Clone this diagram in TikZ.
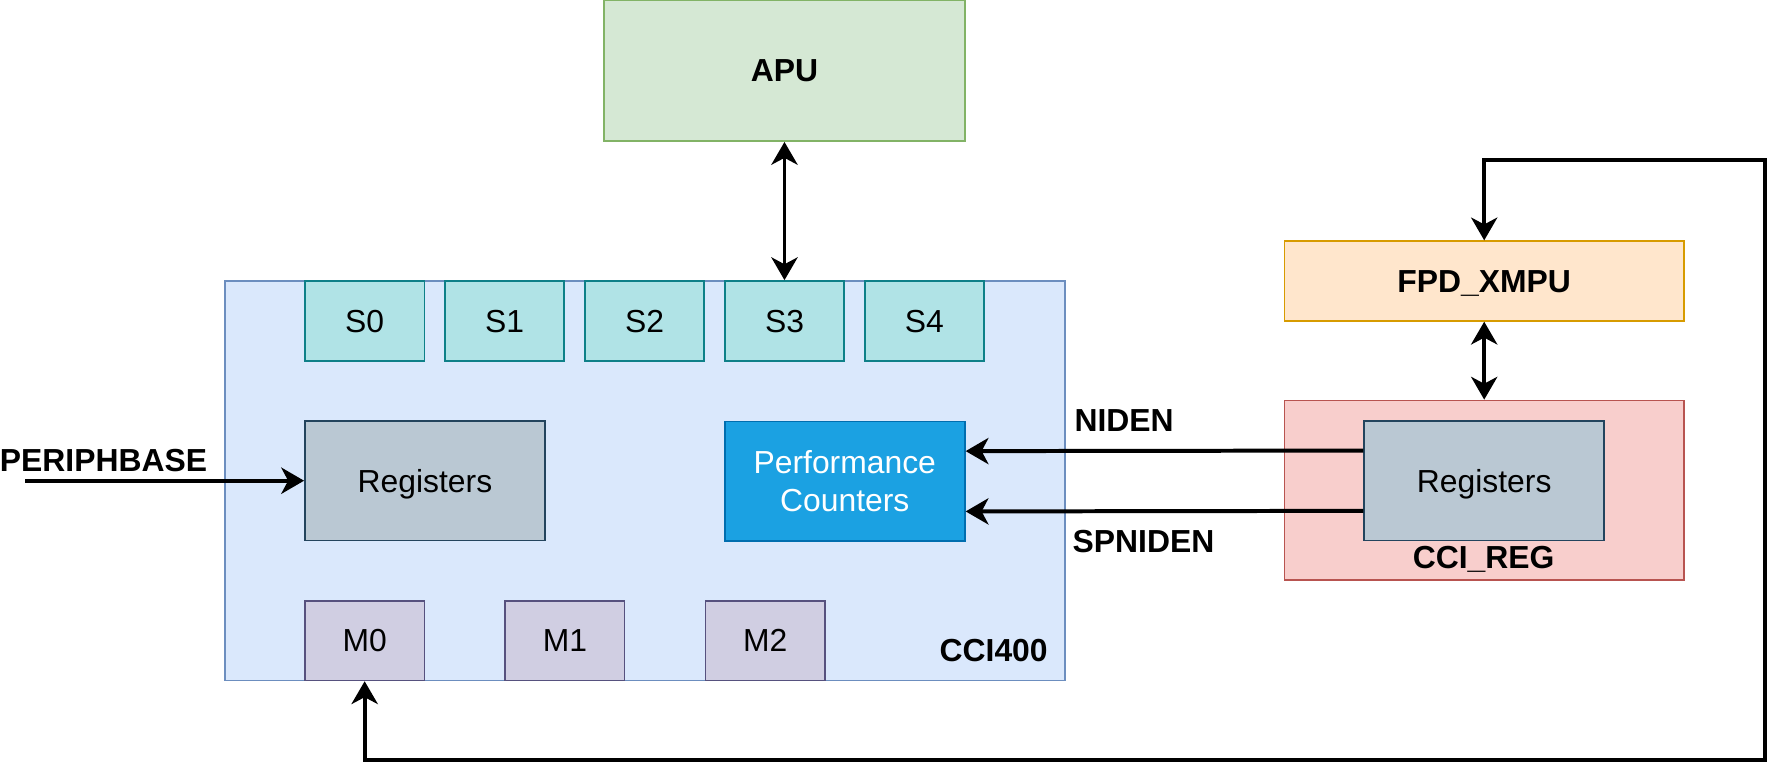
\documentclass[tikz,border=0pt]{standalone}
\usepackage{fontspec}
\setmainfont{Liberation Sans}
\usetikzlibrary{arrows.meta}
\definecolor{apuF}{HTML}{D5E8D4}\definecolor{apuD}{HTML}{82B366}
\definecolor{cciF}{HTML}{DAE8FC}\definecolor{cciD}{HTML}{6C8EBF}
\definecolor{sF}{HTML}{B0E3E6}\definecolor{sD}{HTML}{0E8088}
\definecolor{rgF}{HTML}{BAC8D3}\definecolor{rgD}{HTML}{23445D}
\definecolor{pcF}{HTML}{1BA1E2}\definecolor{pcD}{HTML}{006EAF}
\definecolor{mF}{HTML}{D0CEE2}\definecolor{mD}{HTML}{56517E}
\definecolor{fpF}{HTML}{FFE6CC}\definecolor{fpD}{HTML}{D79B00}
\definecolor{crF}{HTML}{F8CECC}\definecolor{crD}{HTML}{B85450}
\begin{document}
\begin{tikzpicture}[x=1pt,y=-1pt,
  box/.style={draw,line width=1.5pt,inner sep=0pt,align=center,font=\fontsize{28}{33}\selectfont},
  one/.style={text height=20pt,text depth=0pt},
  lbl/.style={inner sep=0pt,font=\fontsize{28}{33}\selectfont\bfseries},
  arr/.style={line width=3.5pt,arrows={-Stealth[length=20pt,width=23pt,inset=6pt]}},
  darr/.style={line width=3.5pt,arrows={Stealth[length=20pt,width=23pt,inset=6pt]-Stealth[length=20pt,width=23pt,inset=6pt]}}]
\useasboundingbox (0,0) rectangle (1568,687.3);
% containers
\node[box,fill=cciF,draw=cciD,minimum width=738pt,minimum height=351pt] (cci) at (567,422.5) {};
\node[box,fill=crF,draw=crD,minimum width=351pt,minimum height=158pt] (ccireg) at (1304.5,431) {};
\node[box,one,fill=apuF,draw=apuD,minimum width=317pt,minimum height=124pt,font=\fontsize{28}{33}\selectfont\bfseries] (apu) at (689.5,62) {APU};
\node[box,one,fill=fpF,draw=fpD,minimum width=351pt,minimum height=70pt,font=\fontsize{28}{33}\selectfont\bfseries] (fpd) at (1304.5,247) {FPD\_XMPU};
% slave ports
\foreach \n/\x in {0/320.5,1/443.5,2/566.5,3/689.5,4/812.5}
  \node[box,one,fill=sF,draw=sD,minimum width=105pt,minimum height=70pt] (s\n) at (\x,282) {S\n};
% master ports
\foreach \n/\x in {0/320.5,1/496.5,2/672.5}
  \node[box,one,fill=mF,draw=mD,minimum width=105pt,minimum height=70pt] (m\n) at (\x,563) {M\n};
\node[box,one,fill=rgF,draw=rgD,minimum width=211pt,minimum height=105pt] (regL) at (373.5,422.5) {Registers};
\node[box,fill=pcF,draw=pcD,text=white,minimum width=211pt,minimum height=105pt] (perf) at (742.5,423) {Performance\\Counters};
\node[box,one,fill=rgF,draw=rgD,minimum width=211pt,minimum height=105pt] (regR) at (1304.5,422.5) {Registers};
% labels
\node[lbl,anchor=east] (lcci) at (921,572) {CCI400};
\node[lbl] (lccireg) at (1304,492) {CCI\_REG};
\node[lbl] (lpb) at (91,405) {PERIPHBASE};
\node[lbl] (lniden) at (988,370) {NIDEN};
\node[lbl] (lspniden) at (1005,476) {SPNIDEN};
% connectors
\coordinate (pb) at (22,422.5);
\coordinate (c1) at (1551,668);
\coordinate (c2) at (1551,141);
\draw[darr] (apu.south) -- (s3.north);
\draw[darr] (fpd.south) -- (ccireg.north);
\draw[arr] (pb) -- (regL.west);
\draw[arr] ([yshift=26.5pt]regR.west) -- ([yshift=26.5pt]perf.east);
\draw[arr] ([yshift=-26.5pt]regR.west) -- ([yshift=-26.5pt]perf.east);
\draw[darr] (m0.south) |- (c1) -- (c2) -| (fpd.north);
\end{tikzpicture}
\end{document}
